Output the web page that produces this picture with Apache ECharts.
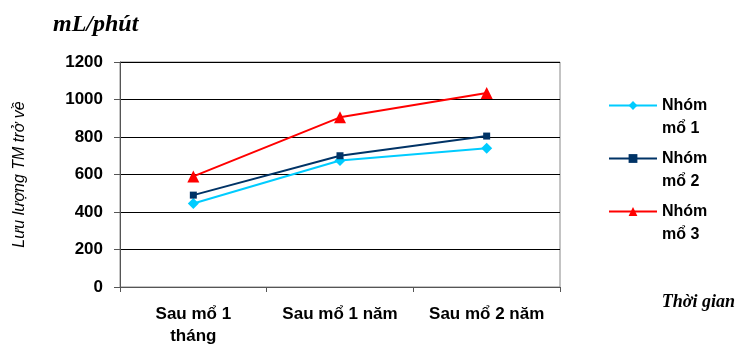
<!DOCTYPE html>
<html>
<head>
    <meta charset="utf-8">
    <title>Lưu lượng TM trở về</title>
    <script src="https://cdn.jsdelivr.net/npm/echarts@6/dist/echarts.min.js"></script>
</head>
<body style="margin:0">
    <div id="main" style="width: 741px;height:350px;"></div>
    <script type="text/javascript">
        // du lieu doc tu hinh
        var categories = ['Sau mổ 1\ntháng', 'Sau mổ 1 năm', 'Sau mổ 2 năm'];
        var nhomMo1 = [445, 675, 740];
        var nhomMo2 = [490, 700, 805];
        var nhomMo3 = [590, 905, 1035];
        var yTicks = [0, 1200, 200];

        var myChart = echarts.init(document.getElementById('main'));

        var option = {
            title: [
                { text: 'mL/phút', left: 48, top: 8,
                  textStyle: { fontFamily: 'Liberation Serif', fontStyle: 'italic', fontWeight: 'bold', fontSize: 24, color: '#000' } },
                { text: 'Thời gian', right: 1, top: 288,
                  textStyle: { fontFamily: 'Liberation Serif', fontStyle: 'italic', fontWeight: 'bold', fontSize: 18, color: '#000' } }
            ],
            legend: {
                orient: 'vertical',
                left: 603,
                top: 66,
                itemWidth: 48,
                itemHeight: 11,
                itemGap: -16,
                // dong trong o tren de bieu tuong nam ngang dong "Nhóm"
                formatter: function (name) { return ' \n' + name; },
                textStyle: { fontFamily: 'Liberation Sans', fontWeight: 'bold', fontSize: 16, color: '#000', lineHeight: 23 },
                data: ['Nhóm\nmổ 1', 'Nhóm\nmổ 2', 'Nhóm\nmổ 3']
            },
            grid: { left: 120, right: 181, top: 62, bottom: 63, show: true, borderColor: '#888', borderWidth: 1 },
            xAxis: {
                type: 'category',
                data: categories,
                boundaryGap: true,
                axisLine: { lineStyle: { color: '#555' } },
                axisTick: { show: true, length: 5, lineStyle: { color: '#555' } },
                axisLabel: { interval: 0, fontFamily: 'Liberation Sans', fontWeight: 'bold', fontSize: 17, color: '#000', margin: 16, lineHeight: 22 }
            },
            yAxis: {
                type: 'value',
                min: yTicks[0],
                max: yTicks[1],
                interval: yTicks[2],
                name: 'Lưu lượng TM trở về',
                nameLocation: 'middle',
                nameGap: 92,
                nameTextStyle: { fontFamily: 'Liberation Sans', fontStyle: 'italic', fontSize: 16, color: '#000' },
                axisLine: { show: true, lineStyle: { color: '#555' } },
                axisTick: { show: true, length: 6, lineStyle: { color: '#555' } },
                axisLabel: { fontFamily: 'Liberation Sans', fontWeight: 'bold', fontSize: 17, color: '#000', margin: 17,
                             formatter: function (v) { return String(v); } },
                splitLine: { lineStyle: { color: '#000', width: 1 } }
            },
            series: [
                { name: 'Nhóm\nmổ 1', type: 'line', data: nhomMo1, symbol: 'diamond', symbolSize: 11,
                  color: '#00CCFF', lineStyle: { width: 2 } },
                { name: 'Nhóm\nmổ 2', type: 'line', data: nhomMo2, symbol: 'rect', symbolSize: 7,
                  color: '#003366', lineStyle: { width: 2 } },
                { name: 'Nhóm\nmổ 3', type: 'line', data: nhomMo3, symbol: 'triangle', symbolSize: 12,
                  color: '#FF0000', lineStyle: { width: 2 } }
            ],
            animation: false
        };

        myChart.setOption(option);
    </script>
</body>
</html>
